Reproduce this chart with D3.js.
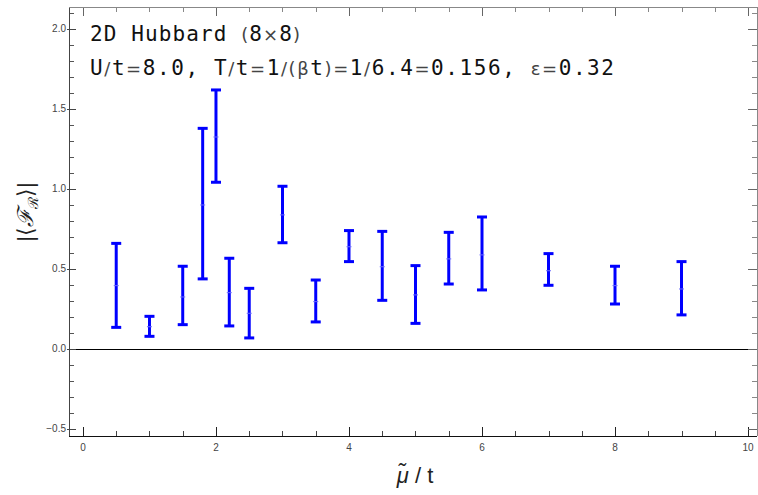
<html>
<head>
<meta charset="utf-8">
<script src="https://cdn.jsdelivr.net/npm/d3@7"></script>
<style>
  body { margin: 0; background: #fff; }
  text { font-family: "Liberation Sans", Arial, sans-serif; }
</style>
</head>
<body>
<div id="chart"></div>
<script>
// mu/t values and the measured |<F_R>| with error bar ends
var muVals  = [0.5, 1.0, 1.5, 1.8, 2.0, 2.2, 2.5, 3.0, 3.5, 4.0, 4.5, 5.0, 5.5, 6.0, 7.0, 8.0, 9.0];
var fMean   = [0.396, 0.139, 0.325, 0.90, 1.325, 0.352, 0.223, 0.838, 0.296, 0.639, 0.514, 0.338, 0.563, 0.588, 0.489, 0.396, 0.375];
var fLow    = [0.135, 0.079, 0.152, 0.438, 1.042, 0.144, 0.069, 0.664, 0.169, 0.546, 0.304, 0.160, 0.406, 0.369, 0.398, 0.281, 0.213];
var fHigh   = [0.660, 0.204, 0.517, 1.379, 1.619, 0.567, 0.379, 1.017, 0.431, 0.740, 0.735, 0.521, 0.729, 0.825, 0.596, 0.517, 0.546];

var xMajor = [0, 2, 4, 6, 8, 10];
var yMajor = [-0.5, 0.0, 0.5, 1.0, 1.5, 2.0];

var W = 758, H = 495;
var svg = d3.select("#chart").append("svg")
    .attr("width", W).attr("height", H);

var fl = 69, fr = 757, ft = 7, fb = 436;
var x = d3.scaleLinear().domain([-0.21, 10.135]).range([fl, fr]);
var y = d3.scaleLinear().domain([-0.544, 2.1375]).range([fb, ft]);

// minor / major ticks
var xMinor = d3.range(0, 10.01, 0.5).filter(function(v) { return xMajor.indexOf(v) < 0; });
var yMinor = d3.range(-0.5, 2.11, 0.1).map(function(v) { return Math.round(v * 10) / 10; })
    .filter(function(v) { return yMajor.indexOf(v) < 0; });

var g = svg.append("g").attr("stroke-width", 1).attr("shape-rendering", "crispEdges");

// zero line
g.append("line")
    .attr("x1", fl).attr("x2", fr)
    .attr("y1", Math.round(y(0)) + 0.5).attr("y2", Math.round(y(0)) + 0.5)
    .attr("stroke", "#000");

function tickX(vals, len, yy, dir, col) {
  g.selectAll(null).data(vals).enter().append("line")
    .attr("x1", function(d) { return Math.round(x(d)) + 0.5; })
    .attr("x2", function(d) { return Math.round(x(d)) + 0.5; })
    .attr("y1", yy).attr("y2", yy + dir * len)
    .attr("stroke", col);
}
function tickY(vals, len, xx, dir, col) {
  g.selectAll(null).data(vals).enter().append("line")
    .attr("y1", function(d) { return Math.round(y(d)) + 0.5; })
    .attr("y2", function(d) { return Math.round(y(d)) + 0.5; })
    .attr("x1", xx).attr("x2", xx + dir * len)
    .attr("stroke", col);
}
tickX(xMajor, 9, fb, -1, "#222");
tickX(xMinor, 5, fb, -1, "#444");
tickX(xMajor, 9, ft, 1, "#666");
tickX(xMinor, 5, ft, 1, "#888");
tickY(yMajor, 9, fl - 2, 1, "#444");
tickY(yMinor, 5, fl, 1, "#555");
tickY(yMajor, 9, fr, -1, "#666");
tickY(yMinor, 5, fr, -1, "#888");

// frame
g.append("line").attr("x1", fl).attr("x2", fr).attr("y1", fb + 0.5).attr("y2", fb + 0.5).attr("stroke", "#111");
g.append("line").attr("x1", fl + 0.5).attr("x2", fl + 0.5).attr("y1", ft).attr("y2", fb).attr("stroke", "#444");
g.append("line").attr("x1", fl).attr("x2", fr).attr("y1", ft + 0.5).attr("y2", ft + 0.5).attr("stroke", "#888");
g.append("line").attr("x1", fr + 0.5).attr("x2", fr + 0.5).attr("y1", ft).attr("y2", fb).attr("stroke", "#888");

// tick labels
svg.selectAll(null).data(xMajor).enter().append("text")
    .attr("x", function(d) { return x(d); })
    .attr("y", fb + 15)
    .attr("text-anchor", "middle")
    .attr("font-size", 10)
    .attr("fill", "#444")
    .text(function(d) { return d; });
svg.selectAll(null).data(yMajor).enter().append("text")
    .attr("x", fl - 3)
    .attr("y", function(d) { return y(d) + 3.5; })
    .attr("text-anchor", "end")
    .attr("font-size", 10)
    .attr("fill", "#444")
    .text(function(d) { return (d < 0 ? "\u2212" : "") + Math.abs(d).toFixed(1); });

// error bars
var pts = muVals.map(function(m, i) { return { x: m, m: fMean[i], lo: fLow[i], hi: fHigh[i] }; });
var eb = svg.append("g").attr("stroke", "#0000ff").attr("stroke-width", 3);
var bar = eb.selectAll(null).data(pts).enter().append("g");
bar.append("line")
    .attr("x1", function(d) { return x(d.x); }).attr("x2", function(d) { return x(d.x); })
    .attr("y1", function(d) { return y(d.lo); }).attr("y2", function(d) { return y(d.hi); });
bar.append("line")
    .attr("x1", function(d) { return x(d.x) - 5; }).attr("x2", function(d) { return x(d.x) + 5; })
    .attr("y1", function(d) { return y(d.lo); }).attr("y2", function(d) { return y(d.lo); });
bar.append("line")
    .attr("x1", function(d) { return x(d.x) - 5; }).attr("x2", function(d) { return x(d.x) + 5; })
    .attr("y1", function(d) { return y(d.hi); }).attr("y2", function(d) { return y(d.hi); });
bar.append("line")
    .attr("stroke-width", 1).attr("stroke", "#6a6aff")
    .attr("x1", function(d) { return x(d.x) - 2.5; }).attr("x2", function(d) { return x(d.x) + 2.5; })
    .attr("y1", function(d) { return y(d.m); }).attr("y2", function(d) { return y(d.m); });

// annotation
var mono = "'DejaVu Sans Mono', 'Liberation Mono', monospace";
var op = "'DejaVu Sans', sans-serif";
function line(parts, yy, len) {
  var t = svg.append("text").attr("x", 90).attr("y", yy)
      .attr("font-size", 21).attr("fill", "#111")
      .attr("textLength", len).attr("lengthAdjust", "spacing");
  parts.forEach(function(p) {
    t.append("tspan")
      .style("font-family", p[1] ? op : mono)
      .attr("font-size", p[1] ? 18 : 21)
      .attr("fill", p[1] ? "#444" : "#111")
      .text(p[0]);
  });
}
line([["2D Hubbard "], ["(", 1], ["8"], ["\u00d7", 1], ["8"], [")", 1]], 41, 210);
line([["U"], ["/", 1], ["t"], ["=", 1], ["8.0, T"], ["/", 1], ["t"], ["=", 1], ["1"], ["/", 1], ["(\u03b2", 1], ["t"], [")", 1], ["=", 1],
      ["1"], ["/", 1], ["6.4"], ["=", 1], ["0.156, "], ["\u03b5", 1], ["=", 1], ["0.32"]], 75, 524);

// axis labels
var xl = svg.append("text")
    .attr("x", 415).attr("y", 483)
    .attr("text-anchor", "middle")
    .attr("font-size", 22).attr("fill", "#222");
xl.append("tspan").attr("font-style", "italic").text("\u03bc\u0303");
xl.append("tspan").text(" / t");

var yl = svg.append("text")
    .attr("transform", "translate(33,212) rotate(-90)")
    .attr("text-anchor", "middle")
    .attr("font-size", 22).attr("fill", "#222");
yl.append("tspan").text("|\u27e8");
yl.append("tspan").attr("font-style", "italic").text("\u2131");
yl.append("tspan").attr("font-size", 14).attr("dy", 5).text("\u211b");
yl.append("tspan").attr("dy", -5).text("\u27e9|");
</script>
</body>
</html>
